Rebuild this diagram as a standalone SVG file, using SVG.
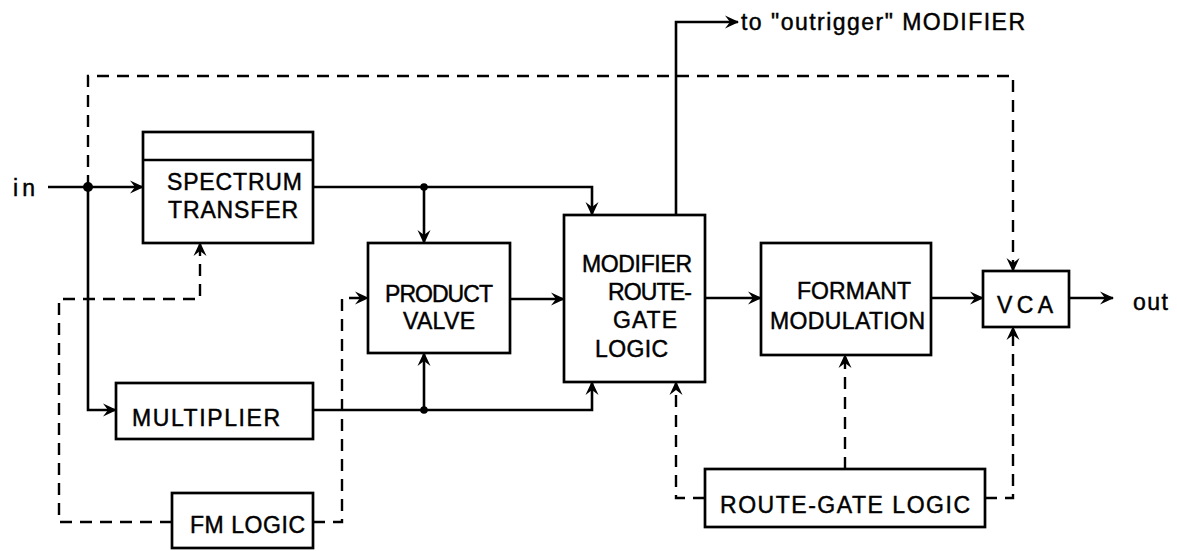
<svg xmlns="http://www.w3.org/2000/svg" width="1177" height="551" viewBox="0 0 1177 551">
<style>
  .box { fill: #fff; stroke: #000; stroke-width: 2.7; }
  .wire { fill: none; stroke: #000; stroke-width: 2.6; }
  .dash { fill: none; stroke: #000; stroke-width: 2.4; stroke-dasharray: 12 8; }
  .lbl { font-family: "Liberation Sans", Arial, sans-serif; font-size: 23px; fill: #000; stroke: #000; stroke-width: 0.45; }
  .arr { marker-end: url(#ah); }
</style>
<defs>
  <marker id="ah" viewBox="-14 -7 16 14" refX="0" refY="0" markerWidth="16" markerHeight="14" markerUnits="userSpaceOnUse" orient="auto">
    <path d="M1,0 L-13,-6.5 L-8,0 L-13,6.5 Z" fill="#000"/>
  </marker>
</defs>
<rect width="1177" height="551" fill="#fff"/>

<g id="connectors">
  <!-- solid signal paths -->
  <path class="wire arr" d="M48,187 H143"/>
  <path class="wire arr" d="M88,187 V410 H116"/>
  <path class="wire arr" d="M313,187 H592 V215"/>
  <path class="wire arr" d="M424,187 V243"/>
  <path class="wire arr" d="M313,410 H592 V382"/>
  <path class="wire arr" d="M424,410 V353"/>
  <path class="wire arr" d="M510,299 H564"/>
  <path class="wire arr" d="M705,298 H761"/>
  <path class="wire arr" d="M931,298 H983"/>
  <path class="wire arr" d="M1069,298 H1113"/>
  <path class="wire arr" d="M676,215 V22 H738"/>
  <circle cx="88" cy="187" r="5" fill="#000"/>
  <circle cx="424" cy="187" r="3.8" fill="#000"/>
  <circle cx="424" cy="410" r="3.8" fill="#000"/>
  <!-- dashed control paths -->
  <path class="dash arr" d="M88,187 V76 H1013 V271"/>
  <path class="dash arr" d="M172,522 H59 V299 H200 V243"/>
  <path class="dash arr" d="M313,522 H342 V298 H368"/>
  <path class="dash arr" d="M705,498 H676 V382"/>
  <path class="dash arr" d="M845,469 V355"/>
  <path class="dash arr" d="M985,498 H1013 V327"/>
</g>

<g id="in-label">
  <text class="lbl" x="13" y="196" textLength="22" lengthAdjust="spacing">in</text>
</g>

<g id="spectrum-transfer">
  <rect class="box" x="143" y="132" width="170" height="111"/>
  <line x1="143" y1="160" x2="313" y2="160" stroke="#000" stroke-width="2.7"/>
  <text class="lbl" x="167" y="190" textLength="135" lengthAdjust="spacing">SPECTRUM</text>
  <text class="lbl" x="168" y="218" textLength="130" lengthAdjust="spacing">TRANSFER</text>
</g>

<g id="multiplier">
  <rect class="box" x="116" y="383" width="197" height="56"/>
  <text class="lbl" x="132" y="426" textLength="148" lengthAdjust="spacing">MULTIPLIER</text>
</g>

<g id="fm-logic">
  <rect class="box" x="172" y="493" width="141" height="55"/>
  <text class="lbl" x="190" y="533" textLength="115" lengthAdjust="spacing">FM LOGIC</text>
</g>

<g id="product-valve">
  <rect class="box" x="368" y="243" width="142" height="110"/>
  <text class="lbl" x="385" y="302" textLength="108" lengthAdjust="spacing">PRODUCT</text>
  <text class="lbl" x="403" y="329" textLength="72" lengthAdjust="spacing">VALVE</text>
</g>

<g id="modifier-route-gate-logic">
  <rect class="box" x="564" y="215" width="141" height="167"/>
  <text class="lbl" x="582" y="272" textLength="110" lengthAdjust="spacing">MODIFIER</text>
  <text class="lbl" x="608" y="300" textLength="84" lengthAdjust="spacing">ROUTE-</text>
  <text class="lbl" x="613" y="328" textLength="64" lengthAdjust="spacing">GATE</text>
  <text class="lbl" x="595" y="357" textLength="73" lengthAdjust="spacing">LOGIC</text>
</g>

<g id="outrigger-label">
  <text class="lbl" x="741" y="30" textLength="284" lengthAdjust="spacing">to "outrigger" MODIFIER</text>
</g>

<g id="formant-modulation">
  <rect class="box" x="761" y="243" width="170" height="112"/>
  <text class="lbl" x="797" y="299" textLength="114" lengthAdjust="spacing">FORMANT</text>
  <text class="lbl" x="770" y="329" textLength="155" lengthAdjust="spacing">MODULATION</text>
</g>

<g id="vca">
  <rect class="box" x="983" y="271" width="86" height="56"/>
  <text class="lbl" x="997" y="313" textLength="56" lengthAdjust="spacing">VCA</text>
</g>

<g id="out-label">
  <text class="lbl" x="1133" y="310" textLength="35" lengthAdjust="spacing">out</text>
</g>

<g id="route-gate-logic">
  <rect class="box" x="705" y="469" width="280" height="58"/>
  <text class="lbl" x="720" y="513" textLength="250" lengthAdjust="spacing">ROUTE-GATE LOGIC</text>
</g>
</svg>
